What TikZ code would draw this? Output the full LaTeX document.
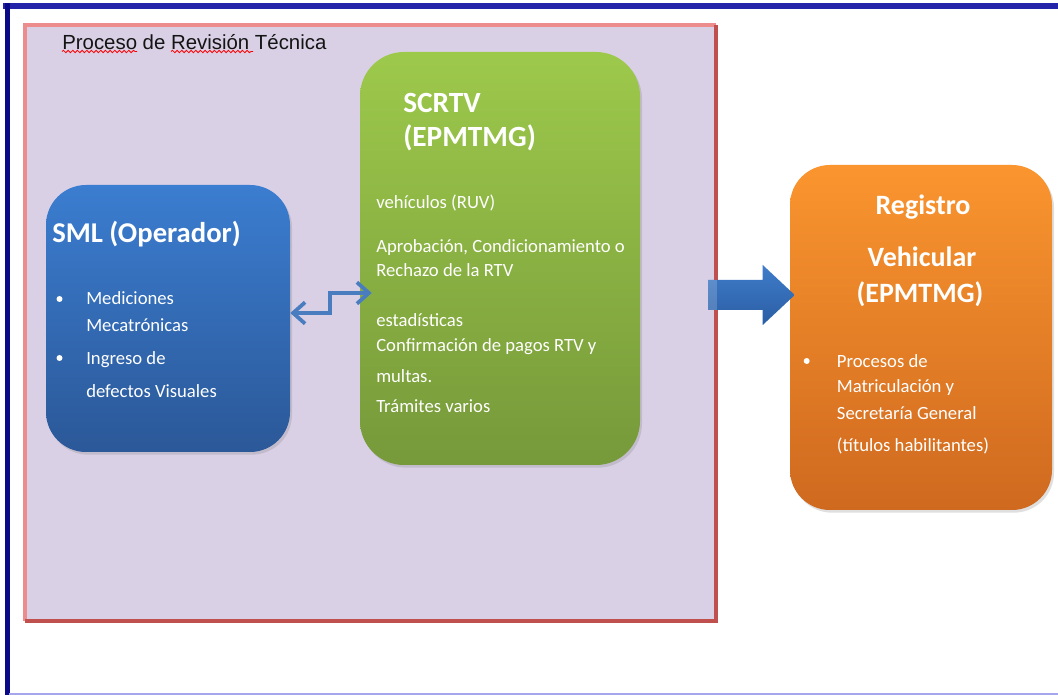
\documentclass[tikz,border=0pt]{standalone}
\usepackage{fontspec}
\setmainfont{Carlito}
\newfontfamily\arialf{Liberation Sans}
\usetikzlibrary{shadows,decorations.pathmorphing,arrows.meta,calc}
\definecolor{lav}{HTML}{D9D0E6}
\definecolor{navytop}{HTML}{2424A8}
\definecolor{navyleft}{HTML}{0A0A86}
\definecolor{lightblue}{HTML}{A6A6EC}
\definecolor{framelight}{HTML}{EC8C8C}
\definecolor{framedark}{HTML}{C0504D}
\definecolor{smlTop}{HTML}{3B7DD0}
\definecolor{smlBot}{HTML}{2B5898}
\definecolor{grTop}{HTML}{9DC94B}
\definecolor{grBot}{HTML}{76993A}
\definecolor{orTop}{HTML}{FA952F}
\definecolor{orBot}{HTML}{CF691F}
\definecolor{arrTop}{HTML}{3F7CC9}
\definecolor{arrBot}{HTML}{2A5EA4}
\definecolor{zzcol}{HTML}{4A7DC0}
\tikzset{
  box/.style={inner sep=0pt, drop shadow={opacity=0.25, shadow xshift=1.5pt, shadow yshift=-2pt}},
  wt/.style={text=white, font=\fontsize{14}{16}\selectfont, inner sep=0pt, anchor=base west},
  hd/.style={text=white, font=\bfseries\fontsize{22}{24}\selectfont, inner sep=0pt},
  bul/.style={circle, fill=white, inner sep=0pt, minimum size=4.5pt},
  zz/.style={draw=zzcol, line width=2.8pt, {Straight Barb[length=9pt,width=16pt]}-{Straight Barb[length=9pt,width=16pt]}},
  squig/.style={draw=red, line width=0.6pt, decorate, decoration={snake, amplitude=0.9pt, segment length=3.5pt}}
}
\begin{document}
\begin{tikzpicture}[x=0.75pt,y=-0.75pt]
\useasboundingbox (0,0) rectangle (1058,695);
\fill[white] (0,0) rectangle (1058,695);
% outer page frame
\draw[line width=4.2pt, navytop] (3,6) -- (1058,6);
\draw[line width=3.8pt, navyleft] (7.5,3) -- (7.5,695);
\draw[line width=1.6pt, lightblue] (9,694) -- (1058,694);
% process frame
\node (frame) [fill=lav, inner sep=0pt, minimum width=518.25pt, minimum height=447pt] at (370.5,323) {};
\draw[line width=3.2pt, framelight] (frame.south west) -- (frame.north west) -- (frame.north east);
\draw[line width=3.2pt, framedark] (frame.north east) -- (frame.south east) -- (frame.south west);
\node (title) [anchor=base west, inner sep=0pt, text={rgb,255:red,20;green,20;blue,20}, font=\arialf\fontsize{15.3}{17}\selectfont] at (62,49.5) {Proceso de Revisión Técnica};
\draw[squig] (62,51.5) -- (137,51.5);
\draw[squig] (171,51.5) -- (253,51.5);
% boxes
\node (sml) [box, rounded corners=30pt, top color=smlTop, bottom color=smlBot, minimum width=183pt, minimum height=200.25pt] at (168,318.5) {};
\node (scrtv) [box, rounded corners=33pt, top color=grTop, bottom color=grBot, minimum width=210pt, minimum height=309.75pt] at (500,258.5) {};
\node (reg) [box, rounded corners=30pt, top color=orTop, bottom color=orBot, minimum width=196.5pt, minimum height=258.75pt] at (921,337.5) {};
% SML text
\node (smlh) [hd, anchor=base west, font=\bfseries\fontsize{21.5}{24}\selectfont] at (52,243) {SML (Operador)};
\node (sb1) [bul] at (59.5,299) {};
\node (sb2) [bul] at (59.5,358) {};
\node (s1) [wt] at (86,305) {Mediciones};
\node (s2) [wt] at (86,332) {Mecatrónicas};
\node (s3) [wt] at (86,364.5) {Ingreso de};
\node (s4) [wt] at (86,398) {defectos Visuales};
% SCRTV text
\node (gh1) [hd, anchor=base west] at (403,113) {SCRTV};
\node (gh2) [hd, anchor=base west] at (403,146.7) {(EPMTMG)};
\node (g1) [wt] at (376,208.5) {vehículos (RUV)};
\node (g2) [wt] at (376,253) {Aprobación, Condicionamiento o};
\node (g3) [wt] at (376,276.7) {Rechazo de la RTV};
\node (g4) [wt] at (376,326.7) {estadísticas};
\node (g5) [wt] at (376,351.7) {Confirmación de pagos RTV y};
\node (g6) [wt] at (376,383) {multas.};
\node (g7) [wt] at (376,413) {Trámites varios};
% Registro text
\node (oh1) [hd, anchor=base, font=\bfseries\fontsize{21}{24}\selectfont] at (923,215) {Registro};
\node (oh2) [hd, anchor=base, font=\bfseries\fontsize{21}{24}\selectfont] at (922,266.7) {Vehicular};
\node (oh3) [hd, anchor=base, font=\bfseries\fontsize{21}{24}\selectfont] at (920,303) {(EPMTMG)};
\node (ob1) [bul] at (806.7,361) {};
\node (o1) [wt] at (836.7,368) {Procesos de};
\node (o2) [wt] at (836.7,393) {Matriculación y};
\node (o3) [wt] at (836.7,420) {Secretaría General};
\node (o4) [wt] at (836.7,451.5) {(títulos habilitantes)};
% zigzag double arrow
\draw[zz] (sml.east |- 0,313) -- (330,313) -- (330,293) -- ($(scrtv.west |- 0,293)+(12,0)$);
% big arrow
\coordinate (ba) at (708,295);
\coordinate (bb) at ($(reg.west |- 0,295)+(5,0)$);
\shade[top color=arrTop, bottom color=arrBot]
  ($(ba)+(0,-15)$) -- ($(bb)+(-32,-15)$) -- ($(bb)+(-32,-30)$) -- (bb) -- ($(bb)+(-32,30)$) -- ($(bb)+(-32,15)$) -- ($(ba)+(0,15)$) -- cycle;
\fill[white, opacity=0.18] ($(ba)+(0,-15)$) rectangle ($(ba)+(9,15)$);
\end{tikzpicture}
\end{document}
